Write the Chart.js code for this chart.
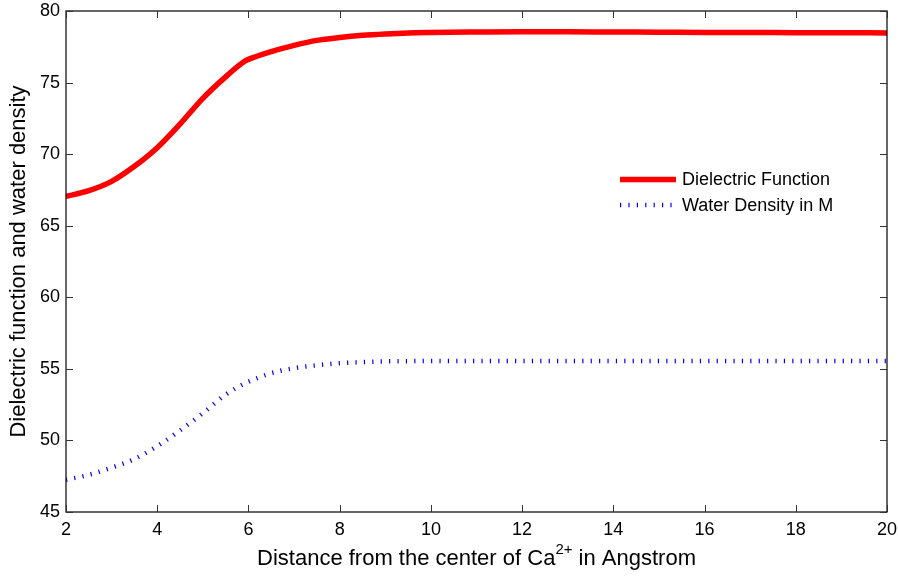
<!DOCTYPE html>
<html>
<head>
<meta charset="utf-8">
<script src="https://cdn.jsdelivr.net/npm/chart.js@4.4.1/dist/chart.umd.min.js"></script>
<style>
  html, body { margin: 0; padding: 0; background: #fff; }
  #wrap { width: 898px; height: 578px; position: relative; }
</style>
</head>
<body>
<div id="wrap"><canvas id="c" width="898" height="578"></canvas></div>
<script>
// ---- data ----
const distance = [2, 2.5, 3, 3.5, 4, 4.5, 5, 5.5, 5.9, 6, 6.5, 7, 7.5, 8, 8.5, 9, 9.5, 10, 11, 12, 13, 14, 15, 16, 17, 18, 19, 20];
const dielectric = [67.05, 67.45, 68.1, 69.15, 70.45, 72.1, 73.9, 75.4, 76.45, 76.62, 77.17, 77.6, 77.95, 78.15, 78.3, 78.4, 78.47, 78.5, 78.53, 78.55, 78.55, 78.53, 78.52, 78.5, 78.5, 78.48, 78.48, 78.47];
const waterDensity = [47.25, 47.6, 48.1, 48.7, 49.6, 50.7, 51.9, 53.2, 53.95, 54.1, 54.7, 55.05, 55.25, 55.4, 55.47, 55.52, 55.54, 55.55, 55.55, 55.55, 55.55, 55.55, 55.55, 55.55, 55.55, 55.55, 55.55, 55.55];
const xTicks = [2, 4, 6, 8, 10, 12, 14, 16, 18, 20];
const yTicks = [45, 50, 55, 60, 65, 70, 75, 80];
const seriesNames = ['Dielectric Function', 'Water Density in M'];
const xTitleParts = ['Distance from the center of Ca', '2+', ' in Angstrom'];
const yTitle = 'Dielectric function and water density';

const FONT = "'Liberation Sans', Arial, sans-serif";

const boxPlugin = {
  id: 'box',
  afterDraw(chart) {
    const ctx = chart.ctx;
    const a = chart.chartArea;
    const xs = chart.scales.x, ys = chart.scales.y;
    ctx.save();
    ctx.strokeStyle = '#000';
    ctx.lineWidth = 1.2;
    ctx.strokeRect(a.left, a.top, a.right - a.left, a.bottom - a.top);
    ctx.lineWidth = 1;
    ctx.strokeStyle = '#333';
    const tl = 7;
    ctx.beginPath();
    xTicks.forEach(v => {
      const p = Math.round(xs.getPixelForValue(v)) + 0.5;
      ctx.moveTo(p, a.bottom); ctx.lineTo(p, a.bottom - tl);
      ctx.moveTo(p, a.top); ctx.lineTo(p, a.top + tl);
    });
    yTicks.forEach(v => {
      const p = Math.round(ys.getPixelForValue(v)) + 0.5;
      ctx.moveTo(a.left, p); ctx.lineTo(a.left + tl, p);
      ctx.moveTo(a.right, p); ctx.lineTo(a.right - tl, p);
    });
    ctx.stroke();

    // x axis title with superscript
    ctx.fillStyle = '#000';
    ctx.textBaseline = 'middle';
    const fMain = '22px ' + FONT, fSup = '15px ' + FONT;
    ctx.font = fMain; const w0 = ctx.measureText(xTitleParts[0]).width;
    const w2 = ctx.measureText(xTitleParts[2]).width;
    ctx.font = fSup; const w1 = ctx.measureText(xTitleParts[1]).width;
    const total = w0 + w1 + w2;
    let x = (a.left + a.right) / 2 - total / 2;
    const y = 559;
    ctx.textAlign = 'left';
    ctx.font = fMain; ctx.fillText(xTitleParts[0], x, y); x += w0;
    ctx.font = fSup; ctx.fillText(xTitleParts[1], x, y - 9); x += w1;
    ctx.font = fMain; ctx.fillText(xTitleParts[2], x, y);

    // legend
    const lx0 = 620, lx1 = 676, tx = 682;
    const rows = [179.5, 205];
    chart.data.datasets.forEach((ds, i) => {
      ctx.save();
      ctx.strokeStyle = ds.borderColor;
      ctx.lineWidth = ds.borderWidth;
      ctx.setLineDash(ds.borderDash || []);
      ctx.lineCap = 'butt';
      ctx.beginPath();
      ctx.moveTo(lx0, rows[i]); ctx.lineTo(lx1, rows[i]);
      ctx.stroke();
      ctx.restore();
      ctx.font = '18px ' + FONT;
      ctx.fillStyle = '#000';
      ctx.textAlign = 'left';
      ctx.textBaseline = 'middle';
      ctx.fillText(ds.label, tx, rows[i] + 1);
    });
    ctx.restore();
  }
};

new Chart(document.getElementById('c'), {
  type: 'line',
  data: {
    labels: distance,
    datasets: [
      {
        label: seriesNames[0],
        data: distance.map((d, i) => ({ x: d, y: dielectric[i] })),
        borderColor: '#ff0000',
        borderWidth: 5.5,
        pointRadius: 0,
        cubicInterpolationMode: 'monotone',
        fill: false
      },
      {
        label: seriesNames[1],
        data: distance.map((d, i) => ({ x: d, y: waterDensity[i] })),
        borderColor: '#0000ff',
        borderWidth: 4.5,
        borderDash: [1.2, 7.2],
        pointRadius: 0,
        cubicInterpolationMode: 'monotone',
        fill: false
      }
    ]
  },
  options: {
    responsive: false,
    animation: false,
    devicePixelRatio: 1,
    layout: { padding: { top: 11, right: 11, left: 0, bottom: 0 } },
    plugins: { legend: { display: false }, tooltip: { enabled: false } },
    scales: {
      x: {
        type: 'linear',
        min: 2, max: 20,
        afterBuildTicks(scale) { scale.ticks = xTicks.map(v => ({ value: v })); },
        afterFit(scale) { scale.height = 66; scale.paddingLeft = 0; scale.paddingRight = 0; },
        grid: { display: false, drawTicks: false },
        border: { display: false },
        ticks: { color: '#000', font: { family: FONT, size: 18 }, padding: 7, maxRotation: 0, autoSkip: false }
      },
      y: {
        type: 'linear',
        min: 45, max: 80,
        afterBuildTicks(scale) { scale.ticks = yTicks.map(v => ({ value: v })); },
        afterFit(scale) { scale.width = 66; scale.paddingTop = 0; scale.paddingBottom = 0; },
        grid: { display: false, drawTicks: false },
        border: { display: false },
        ticks: { color: '#000', font: { family: FONT, size: 18 }, padding: 6, autoSkip: false },
        title: { display: true, text: yTitle, color: '#000', font: { family: FONT, size: 22 }, padding: { top: 6, bottom: 0 } }
      }
    }
  },
  plugins: [boxPlugin]
});
</script>
</body>
</html>
